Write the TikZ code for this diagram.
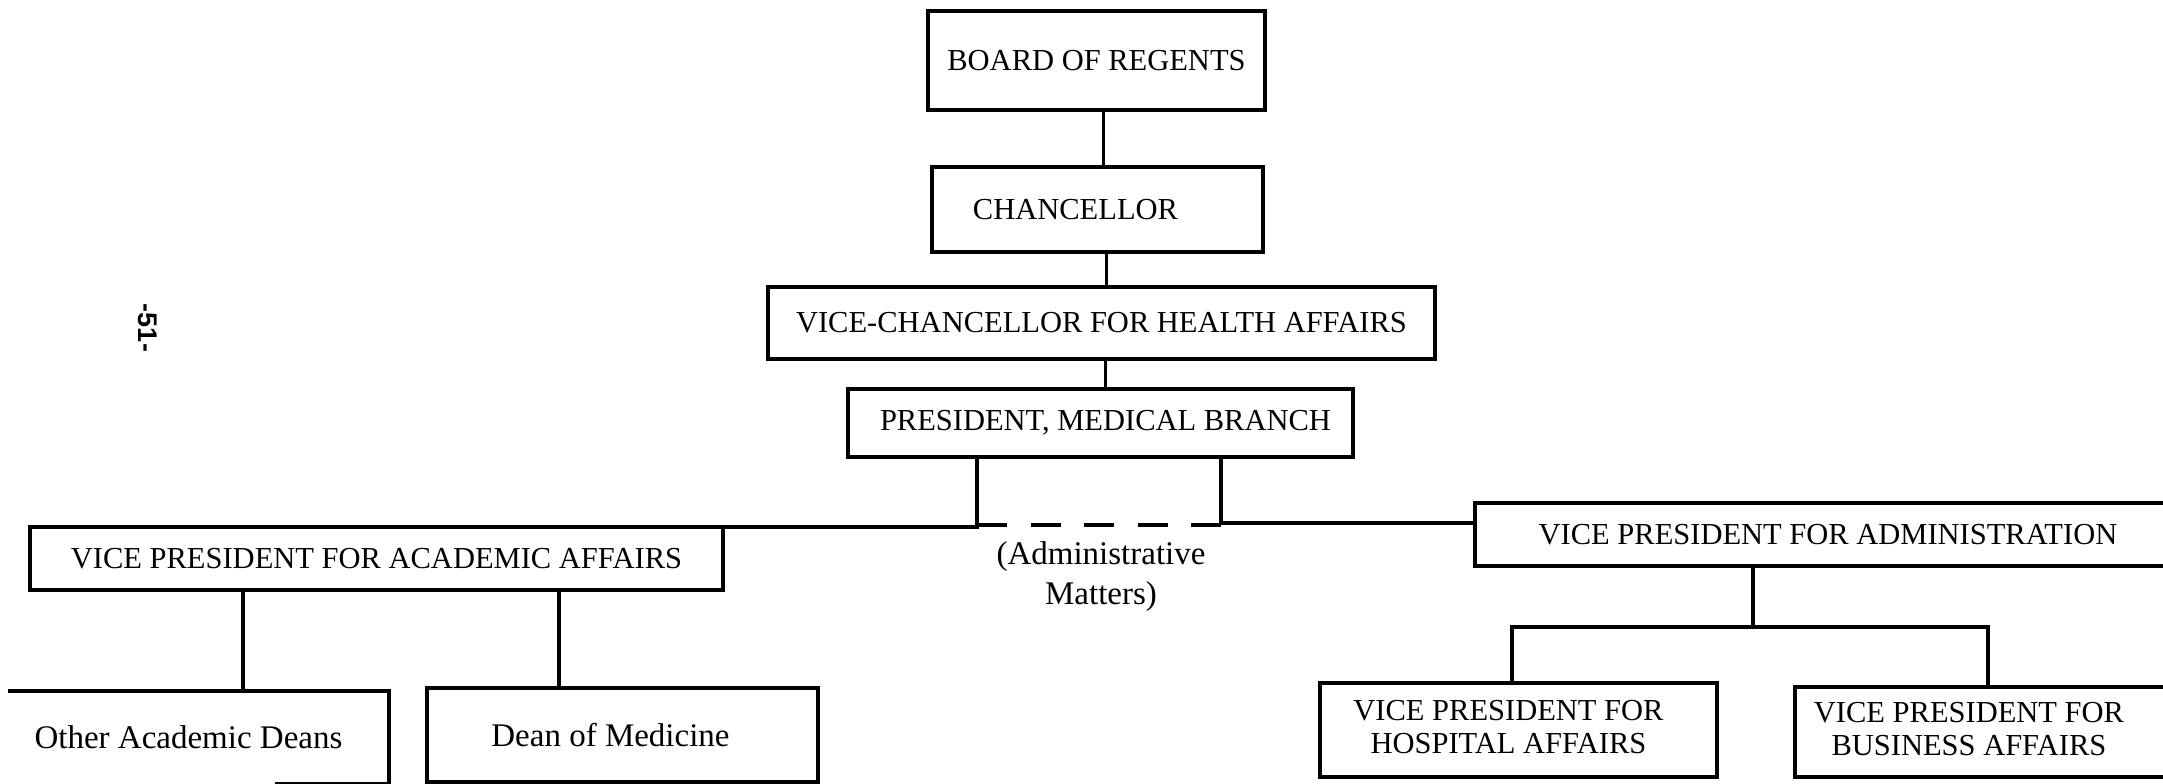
\documentclass[tikz,border=0pt]{standalone}
\usepackage{fontspec}
\setmainfont{Liberation Serif}
\newfontfamily\pagenumfont{Liberation Sans}
\begin{document}
\begin{tikzpicture}[x=1pt,y=-1pt,
  box/.style={draw=black,line width=3.6pt,inner sep=0pt,font=\fontsize{30.5}{33}\selectfont},
  lowbox/.style={box,font=\fontsize{33}{38}\selectfont},
  conn/.style={draw=black,line width=3.2pt},
  dashconn/.style={draw=black,line width=3.2pt,dash pattern=on 30pt off 23.5pt}]
\useasboundingbox (0,0) rectangle (2163,784);
\clip (0,0) rectangle (2163,784);
\fill[white] (0,0) rectangle (2163,784);

% top chain
\node[box,minimum width=337,minimum height=99] (board) at (1096.5,60.5) {BOARD OF REGENTS};
\node[box,minimum width=331,minimum height=85] (chan) at (1097.5,209.5) {CHANCELLOR\kern44pt};
\node[box,minimum width=667,minimum height=72] (vc) at (1101.5,323) {VICE-CHANCELLOR FOR HEALTH AFFAIRS};
\node[box,minimum width=505,minimum height=68] (pres) at (1100.5,423) {\kern10pt PRESIDENT, MEDICAL BRANCH};

% second level
\node[box,minimum width=693,minimum height=63] (vpaa) at (376.5,558.5) {VICE PRESIDENT FOR ACADEMIC AFFAIRS};
\node[box,minimum width=706,minimum height=63] (vpa) at (1828,534.5) {VICE PRESIDENT FOR ADMINISTRATION};

% third level
\node[lowbox,draw=none,minimum width=377,minimum height=89] (ode) at (198.5,737.5) {Other Academic Deans\kern20pt};
\draw[line width=3.6pt] (ode.north west) -- (ode.north east) -- (ode.south east) -- ++(-114,0);
\node[lowbox,minimum width=391,minimum height=94] (dom) at (622.5,735) {Dean of Medicine\kern24pt};
\node[box,minimum width=397,minimum height=94] (hosp) at (1518.5,730)
  {\begin{tabular}{@{}c@{}}VICE PRESIDENT FOR\\HOSPITAL AFFAIRS\end{tabular}\kern20pt};
\node[box,minimum width=386,minimum height=90] (bus) at (1988,732)
  {\begin{tabular}{@{}c@{}}VICE PRESIDENT FOR\\BUSINESS AFFAIRS\end{tabular}\kern38pt};

% label
\node[font=\fontsize{33}{40}\selectfont,align=center,inner sep=0pt] (adm) at (1101,577) {(Administrative\\Matters)};

% page number
\node[font=\pagenumfont\bfseries\fontsize{27}{27}\selectfont,rotate=-90,inner sep=0pt] (pg) at (148,328) {-51-};

% connectors
\draw[conn] ([xshift=7]board.south) -- ([xshift=7]board.south |- chan.north);
\draw[conn] ([xshift=9]chan.south) -- ([xshift=9]chan.south |- vc.north);
\draw[conn] ([xshift=4]vc.south) -- ([xshift=4]vc.south |- pres.north);

\coordinate (jl) at (977,527);
\coordinate (jr) at (1221,523);
\coordinate (dl) at (977,525);
\coordinate (dr) at (1221,525);
\draw[conn] (pres.south -| jl) -- (jl) -- (jl -| vpaa.east);
\draw[dashconn] (dl) -- (dr);
\draw[conn] (pres.south -| jr) -- (jr) -- (jr -| vpa.west);

\draw[conn] ([xshift=44.5]ode.north) -- ([xshift=44.5]ode.north |- vpaa.south);
\draw[conn] ([xshift=-63.5]dom.north) -- ([xshift=-63.5]dom.north |- vpaa.south);

\coordinate (jv) at (1753,627);
\draw[conn] (vpa.south -| jv) -- (jv);
\draw[conn] ([xshift=-6.5]hosp.north) |- (jv) -| (bus.north);
\end{tikzpicture}
\end{document}
